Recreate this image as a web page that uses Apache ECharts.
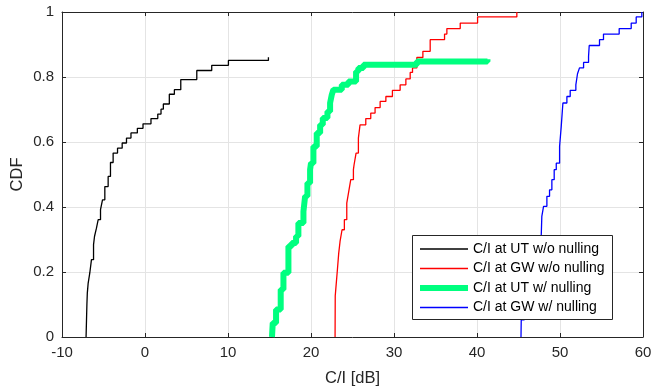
<!DOCTYPE html>
<html>
<head>
<meta charset="utf-8">
<script src="https://cdn.jsdelivr.net/npm/echarts@6/dist/echarts.min.js"></script>
<style>
  html, body { margin: 0; padding: 0; background: #fff; }
  #chart { width: 652px; height: 388px; }
</style>
</head>
<body>
<div id="chart"></div>
<script>
const utNoNullX = [-7.1, -7.05, -7.0, -6.95, -6.85, -6.65, -6.45, -6.2, -6.08, -5.85, -5.64, -5.36, -5.12, -4.84, -4.44, -4.16, -3.84, -3.31, -2.75, -2.23, -1.69, -0.92, -0.24, 0.72, 1.54, 1.93, 2.21, 2.93, 3.54, 4.31, 6.24, 8.04, 10.05, 14.87];
const utNoNullCdf = [0, 0.05, 0.1, 0.135, 0.165, 0.197, 0.238, 0.284, 0.31, 0.335, 0.361, 0.392, 0.422, 0.463, 0.494, 0.537, 0.566, 0.581, 0.597, 0.612, 0.628, 0.642, 0.656, 0.672, 0.686, 0.701, 0.717, 0.747, 0.761, 0.792, 0.82, 0.836, 0.851, 0.861];

const gwNoNullX = [22.9, 22.92, 22.98, 23.18, 23.34, 23.5, 23.74, 24.02, 24.31, 24.55, 24.79, 25.11, 25.19, 25.43, 25.71, 25.91, 26.6, 27.2, 27.72, 28.33, 29.02, 29.81, 30.74, 31.43, 31.95, 32.23, 32.75, 33.48, 34.36, 36.09, 36.37, 37.98, 40.07, 44.8];
const gwNoNullCdf = [0, 0.127, 0.145, 0.207, 0.258, 0.294, 0.33, 0.361, 0.412, 0.448, 0.484, 0.515, 0.53, 0.566, 0.612, 0.653, 0.672, 0.689, 0.706, 0.725, 0.74, 0.759, 0.776, 0.794, 0.814, 0.828, 0.86, 0.879, 0.915, 0.932, 0.949, 0.966, 0.985, 1.0];

const utNullX = [15.3, 15.39, 15.79, 16.35, 16.68, 17.28, 17.68, 18.2, 18.48, 19.09, 19.29, 19.57, 19.89, 20.0, 20.29, 20.69, 21.1, 21.42, 21.98, 22.3, 22.5, 22.7, 23.71, 24.51, 25.43, 25.71, 26.32, 32.75, 41.26];
const utNullCdf = [0, 0.043, 0.085, 0.146, 0.198, 0.279, 0.289, 0.31, 0.351, 0.386, 0.433, 0.474, 0.515, 0.535, 0.586, 0.628, 0.653, 0.674, 0.694, 0.72, 0.745, 0.761, 0.776, 0.786, 0.817, 0.828, 0.838, 0.848, 0.855];

const gwNullX = [45.3, 45.33, 45.7, 46.2, 46.8, 47.3, 47.69, 47.81, 48.02, 48.42, 48.74, 49.02, 49.3, 49.55, 49.95, 50.15, 50.35, 50.83, 51.23, 51.91, 52.11, 52.35, 52.84, 53.44, 53.52, 54.76, 55.24, 57.13, 58.58, 59.18, 59.86];
const gwNullCdf = [0, 0.053, 0.1, 0.15, 0.2, 0.24, 0.272, 0.371, 0.402, 0.433, 0.453, 0.484, 0.515, 0.535, 0.586, 0.648, 0.72, 0.74, 0.759, 0.776, 0.81, 0.828, 0.845, 0.863, 0.897, 0.915, 0.932, 0.949, 0.966, 0.985, 1.0];

const seriesNames = ['C/I at UT w/o nulling', 'C/I at GW w/o nulling', 'C/I at UT w/ nulling', 'C/I at GW w/ nulling'];
const seriesColors = ['#000000', '#ff0000', '#00ff7f', '#0000ff'];
const seriesWidths = [1.3, 1.3, 6, 1.3];

const FONT = 'Liberation Sans, Arial, sans-serif';
const AXIS_COLOR = '#262626';
const GRID_COLOR = '#e4e4e4';

const zip = (xs, ys) => xs.map((x, i) => [x, ys[i]]);
const curves = [
  zip(utNoNullX, utNoNullCdf),
  zip(gwNoNullX, gwNoNullCdf),
  zip(utNullX, utNullCdf),
  zip(gwNullX, gwNullCdf),
];

const chart = echarts.init(document.getElementById('chart'));

// matlab-style box: ticks inside on all four sides
const boxAxis = (extra) => ({
  axisLine: { show: true, onZero: false, lineStyle: { color: AXIS_COLOR, width: 1 } },
  axisTick: { show: true, inside: true, length: 4, lineStyle: { color: AXIS_COLOR } },
  ...extra,
});

chart.setOption({
  animation: false,
  backgroundColor: '#ffffff',
  grid: { left: 62, right: 9, top: 12, bottom: 51, outerBoundsMode: 'none' },
  // legend frame drawn separately, the legend's own box came out too wide
  graphic: [{
    type: 'rect',
    left: 412,
    top: 235,
    z: 5,
    shape: { width: 200, height: 84 },
    style: { fill: '#ffffff', stroke: AXIS_COLOR, lineWidth: 1 },
  }],
  legend: {
    orient: 'vertical',
    left: 412,
    top: 236,
    z: 6,
    padding: [6, 6, 6, 5],
    itemWidth: 48,
    itemHeight: 14,
    itemGap: 5.5,
    itemStyle: { opacity: 0 },
    textStyle: { fontFamily: FONT, fontSize: 14, color: '#000' },
    data: seriesNames.map((name, i) => ({
      name,
      lineStyle: { width: seriesWidths[i] },
    })),
  },
  xAxis: [
    boxAxis({
      type: 'value',
      min: -10,
      max: 60,
      interval: 10,
      position: 'bottom',
      name: 'C/I [dB]',
      nameLocation: 'middle',
      nameGap: 33,
      nameMoveOverlap: false,
      nameTextStyle: { fontFamily: FONT, fontSize: 16.5, color: AXIS_COLOR },
      axisLabel: { fontFamily: FONT, fontSize: 15, color: AXIS_COLOR, margin: 8 },
      splitLine: { show: true, lineStyle: { color: GRID_COLOR, width: 1 } },
    }),
    boxAxis({
      type: 'value',
      min: -10,
      max: 60,
      interval: 10,
      position: 'top',
      axisLabel: { show: false },
      splitLine: { show: false },
    }),
  ],
  yAxis: [
    boxAxis({
      type: 'value',
      min: 0,
      max: 1,
      interval: 0.2,
      position: 'left',
      name: 'CDF',
      nameLocation: 'middle',
      nameGap: 36,
      nameMoveOverlap: false,
      nameTextStyle: { fontFamily: FONT, fontSize: 16.5, color: AXIS_COLOR },
      axisLabel: { fontFamily: FONT, fontSize: 15, color: AXIS_COLOR, margin: 8 },
      splitLine: { show: true, lineStyle: { color: GRID_COLOR, width: 1 } },
    }),
    boxAxis({
      type: 'value',
      min: 0,
      max: 1,
      interval: 0.2,
      position: 'right',
      axisLabel: { show: false },
      splitLine: { show: false },
    }),
  ],
  series: curves.map((data, i) => ({
    name: seriesNames[i],
    type: 'line',
    step: 'end',
    data,
    symbol: 'none',
    lineStyle: { color: seriesColors[i], width: seriesWidths[i] },
    itemStyle: { color: seriesColors[i] },
  })),
});
</script>
</body>
</html>
